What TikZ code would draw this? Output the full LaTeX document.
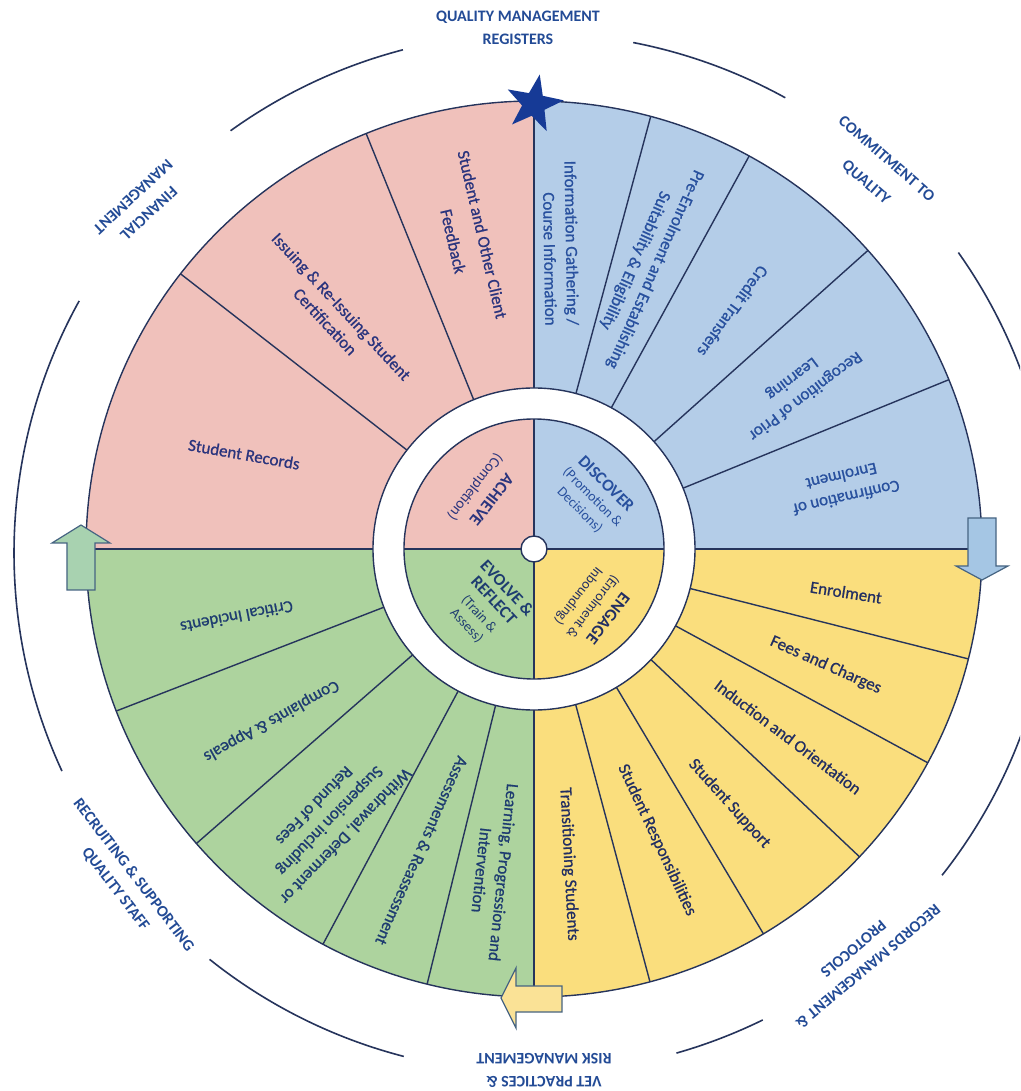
\documentclass[tikz,border=0pt]{standalone}
\usepackage{fontspec}
\setmainfont{Carlito}
\usetikzlibrary{shapes.geometric}
\definecolor{pinkq}{RGB}{240,193,187}
\definecolor{blueq}{RGB}{180,205,232}
\definecolor{yellowq}{RGB}{250,222,125}
\definecolor{greenq}{RGB}{173,211,158}
\definecolor{linec}{RGB}{38,52,92}
\definecolor{txtblue}{RGB}{40,80,158}
\definecolor{txtdark}{RGB}{34,46,98}
\definecolor{txtgreen}{RGB}{30,60,112}
\definecolor{txtpink}{RGB}{42,52,125}
\definecolor{lblc}{RGB}{35,75,150}
\definecolor{starc}{RGB}{22,58,150}
\definecolor{arrowln}{RGB}{70,100,130}
\definecolor{garrow}{RGB}{168,210,176}
\definecolor{barrow}{RGB}{165,198,228}
\definecolor{yarrow}{RGB}{250,226,150}
\newcommand{\bigbf}{\fontsize{17}{20}\selectfont\bfseries}
\begin{document}
\begin{tikzpicture}[x=1pt,y=1pt,
  seg/.style={line width=1.4pt, draw=linec},
  segtxt/.style={align=center, font=\fontsize{17}{22}\selectfont\addfontfeature{FakeBold=0.8}, inner sep=0pt},
  innertxt/.style={align=center, inner sep=0pt, font=\fontsize{14}{18}\selectfont},
  lbl/.style={align=center, font=\fontsize{16}{23}\selectfont\bfseries, text=lblc, inner sep=0pt},
  ringarc/.style={draw=linec, line width=1.6pt},
  arrowbox/.style={draw=arrowln, line width=1.2pt, line join=miter}
]
\useasboundingbox (-534,-542) rectangle (486,549);
\clip (-534,-542) rectangle (486,549);
\fill[white] (-534,-542) rectangle (486,549);

% outer wheel sectors
\foreach \a/\b/\c in {0/90/blueq, -90/0/yellowq, 180/270/greenq, 90/180/pinkq}
  \fill[\c] (0,0) -- (\a:448) arc[start angle=\a, end angle=\b, radius=448] -- cycle;
\foreach \a in {22.2,41.8,61.3,74.9,-14.2,-28.5,-43.4,-59.2,-75,201.2,221.1,241.9,256.2,112,142.1}
  \draw[seg] (\a:161) -- (\a:448);
\draw[seg] (0,-448) -- (0,448);
\draw[seg] (-448,0) -- (448,0);
\draw[seg] (0,0) circle (448);

% white ring and inner quadrants
\fill[white] (0,0) circle (161);
\draw[seg] (0,0) circle (161);
\foreach \a/\b/\c in {0/90/blueq, -90/0/yellowq, 180/270/greenq, 90/180/pinkq}
  \fill[\c] (0,0) -- (\a:130) arc[start angle=\a, end angle=\b, radius=130] -- cycle;
\draw[seg] (0,-130) -- (0,130);
\draw[seg] (-130,0) -- (130,0);
\draw[seg] (0,0) circle (130);
\filldraw[seg, fill=white] (0,0) circle (13);

% outer arcs
\foreach \s/\e in {104.6/125.7, 61.1/79.0, -38.3/35.3, -74.1/-63.9, 231.4/255.5, 151.0/204.8}
  \draw[ringarc] ([shift={(0,-4)}]\s:520) arc[start angle=\s, end angle=\e, radius=520];

% star
\node[star, star points=5, star point ratio=2.5, minimum size=60pt, fill=starc, rotate=-11, inner sep=0pt] (star) at (0,445) {};

% arrows
\filldraw[arrowbox, fill=garrow] (-467,-41) -- (-467,6) -- (-482,6) -- (-453,24) -- (-424,6) -- (-439,6) -- (-439,-41) -- cycle;
\filldraw[arrowbox, fill=barrow] (434,31) -- (434,-17) -- (422,-17) -- (448,-31) -- (474,-17) -- (462,-17) -- (462,31) -- cycle;
\filldraw[arrowbox, fill=yarrow] (28,-437) -- (-18,-437) -- (-18,-419) -- (-33,-449) -- (-18,-479) -- (-18,-463) -- (28,-463) -- cycle;

% blue segment texts
\node[segtxt, text=txtblue, rotate=-89, align=right] (b1) at (85:307) {Information Gathering /\\Course Information};
\node[segtxt, text=txtblue, rotate=-114] (b2) at (68.7:305) {Pre-Enrolment and Establishing\\Suitability \& Eligibility};
\node[segtxt, text=txtblue, rotate=-126] (b3) at (50.1:310) {Credit Transfers};
\node[segtxt, text=txtblue, rotate=-143] (b4) at (31.5:310) {Recognition of Prior\\Learning};
\node[segtxt, text=txtblue, rotate=-167] (b5) at (11.3:316) {Confirmation of\\Enrolment};

% yellow segment texts
\node[segtxt, text=txtdark, rotate=-9] (y1) at (-7.9:315) {Enrolment};
\node[segtxt, text=txtdark, rotate=-24] (y2) at (-21.7:314) {Fees and Charges};
\node[segtxt, text=txtdark, rotate=-37] (y3) at (-36.5:316) {Induction and Orientation};
\node[segtxt, text=txtdark, rotate=-48] (y4) at (-52.5:321) {Student Support};
\node[segtxt, text=txtdark, rotate=-65] (y5) at (-67.1:316) {Student Responsibilities};
\node[segtxt, text=txtdark, rotate=-87] (y6) at (-83.7:317) {Transitioning Students};

% green segment texts
\node[segtxt, text=txtgreen, rotate=191] (g1) at (192.9:305) {Critical Incidents};
\node[segtxt, text=txtgreen, rotate=209] (g2) at (213.2:314) {Complaints \& Appeals};
\node[segtxt, text=txtgreen, rotate=226] (g3) at (233.2:340) {Withdrawal, Deferment or\\Suspension including\\Refund of Fees};
\node[segtxt, text=txtgreen, rotate=246] (g4) at (249.6:322) {Assessments \& Reassessment};
\node[segtxt, text=txtgreen, rotate=264] (g5) at (262.7:325) {Learning, Progression and\\Intervention};

% pink segment texts
\node[segtxt, text=txtpink, rotate=-10] (p1) at (161.9:305) {Student Records};
\node[segtxt, text=txtpink, rotate=-47] (p2) at (130.5:309) {Issuing \& Re-Issuing Student\\Certification};
\node[segtxt, text=txtpink, rotate=-77, font=\fontsize{17}{30}\selectfont\addfontfeature{FakeBold=0.8}] (p3) at (102:318) {Student and Other Client\\Feedback};

% inner texts
\node[innertxt, text=txtblue, rotate=-45] (discover) at (59,52) {{\bigbf DISCOVER}\\(Promotion \&\\Decisions)};
\node[innertxt, text=txtdark, rotate=-128] (engage) at (59,-58) {{\bigbf ENGAGE}\\(Enrolment \&\\Inbounding)};
\node[innertxt, text=txtgreen, rotate=-47, font=\fontsize{14}{17}\selectfont] (evolve) at (-47,-58) {{\bigbf EVOLVE \&}\\[1pt]{\bigbf REFLECT}\\[2pt](Train \&\\Assess)};
\node[innertxt, text=txtpink, rotate=-128, font=\fontsize{15}{20}\selectfont] (achieve) at (-51,56) {{\bigbf ACHIEVE}\\(Completion)};

% outer labels
\node[lbl] (qm) at (-16,521) {QUALITY MANAGEMENT\\REGISTERS};
\node[lbl, rotate=-41] (cq) at (342,378) {COMMITMENT TO\\[8pt]QUALITY};
\node[lbl, rotate=-140] (rm) at (327,-409) {RECORDS MANAGEMENT \&\\PROTOCOLS};
\node[lbl, rotate=180] (vet) at (10,-521) {VET PRACTICES \&\\RISK MANAGEMENT};
\node[lbl, rotate=-52.5] (rs) at (-409.5,-333) {RECRUITING \& SUPPORTING\\QUALITY STAFF};
\node[lbl, rotate=-137] (fm) at (-393,344) {FINANCIAL\\MANAGEMENT};
\end{tikzpicture}
\end{document}
